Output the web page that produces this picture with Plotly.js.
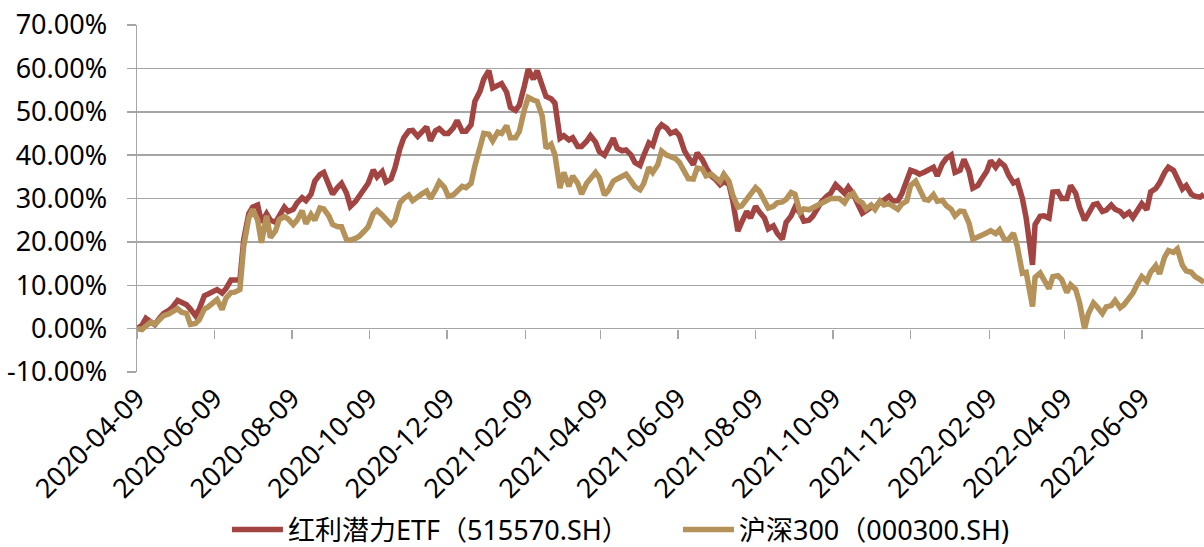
<!DOCTYPE html>
<html>
<head>
<meta charset="utf-8">
<script src="https://cdn.plot.ly/plotly-3.0.1.min.js"></script>
<style>
html,body{margin:0;padding:0;background:#fff;}
#chart{width:1204px;height:547px;}
</style>
</head>
<body>
<div id="chart"></div>
<script>
const dates = ["2020-04-09","2020-04-13","2020-04-16","2020-04-20","2020-04-23","2020-04-27","2020-04-30","2020-05-04","2020-05-07","2020-05-11","2020-05-14","2020-05-18","2020-05-21","2020-05-25","2020-05-28","2020-06-01","2020-06-04","2020-06-08","2020-06-11","2020-06-15","2020-06-18","2020-06-22","2020-06-25","2020-06-29","2020-07-02","2020-07-06","2020-07-09","2020-07-13","2020-07-16","2020-07-20","2020-07-23","2020-07-27","2020-07-30","2020-08-03","2020-08-06","2020-08-10","2020-08-13","2020-08-17","2020-08-20","2020-08-24","2020-08-27","2020-08-31","2020-09-03","2020-09-07","2020-09-10","2020-09-14","2020-09-17","2020-09-21","2020-09-24","2020-09-28","2020-10-01","2020-10-05","2020-10-08","2020-10-12","2020-10-15","2020-10-19","2020-10-22","2020-10-26","2020-10-29","2020-11-02","2020-11-05","2020-11-09","2020-11-12","2020-11-16","2020-11-19","2020-11-23","2020-11-26","2020-11-30","2020-12-03","2020-12-07","2020-12-10","2020-12-14","2020-12-17","2020-12-21","2020-12-24","2020-12-28","2020-12-31","2021-01-04","2021-01-07","2021-01-11","2021-01-14","2021-01-18","2021-01-21","2021-01-25","2021-01-28","2021-02-01","2021-02-04","2021-02-08","2021-02-11","2021-02-15","2021-02-18","2021-02-22","2021-02-25","2021-03-01","2021-03-04","2021-03-08","2021-03-11","2021-03-15","2021-03-18","2021-03-22","2021-03-25","2021-03-29","2021-04-01","2021-04-05","2021-04-08","2021-04-12","2021-04-15","2021-04-19","2021-04-22","2021-04-26","2021-04-29","2021-05-03","2021-05-06","2021-05-10","2021-05-13","2021-05-17","2021-05-20","2021-05-24","2021-05-27","2021-05-31","2021-06-03","2021-06-07","2021-06-10","2021-06-14","2021-06-17","2021-06-21","2021-06-24","2021-06-28","2021-07-01","2021-07-05","2021-07-08","2021-07-12","2021-07-15","2021-07-19","2021-07-22","2021-07-26","2021-07-29","2021-08-02","2021-08-05","2021-08-09","2021-08-12","2021-08-16","2021-08-19","2021-08-23","2021-08-26","2021-08-30","2021-09-02","2021-09-06","2021-09-09","2021-09-13","2021-09-16","2021-09-20","2021-09-23","2021-09-27","2021-09-30","2021-10-04","2021-10-07","2021-10-11","2021-10-14","2021-10-18","2021-10-21","2021-10-25","2021-10-28","2021-11-01","2021-11-04","2021-11-08","2021-11-11","2021-11-15","2021-11-18","2021-11-22","2021-11-25","2021-11-29","2021-12-02","2021-12-06","2021-12-09","2021-12-13","2021-12-16","2021-12-20","2021-12-23","2021-12-27","2021-12-30","2022-01-03","2022-01-06","2022-01-10","2022-01-13","2022-01-17","2022-01-20","2022-01-24","2022-01-27","2022-01-31","2022-02-03","2022-02-07","2022-02-10","2022-02-14","2022-02-17","2022-02-21","2022-02-24","2022-02-28","2022-03-03","2022-03-07","2022-03-10","2022-03-15","2022-03-17","2022-03-21","2022-03-24","2022-03-28","2022-03-31","2022-04-04","2022-04-07","2022-04-11","2022-04-14","2022-04-18","2022-04-21","2022-04-25","2022-04-28","2022-05-02","2022-05-05","2022-05-09","2022-05-12","2022-05-16","2022-05-19","2022-05-23","2022-05-26","2022-05-30","2022-06-02","2022-06-06","2022-06-09","2022-06-13","2022-06-16","2022-06-20","2022-06-23","2022-06-27","2022-06-30","2022-07-04","2022-07-07","2022-07-11","2022-07-14","2022-07-18","2022-07-21","2022-07-25","2022-07-28"];

// 红利潜力ETF cumulative return (%)
const etfReturn = [
0,0.8,2.4,1.6,0.9,2.5,3.5,4.2,5.0,6.5,
6.2,5.5,4.5,3.0,4.5,7.6,8.0,8.5,9.0,8.2,
9.2,11.2,11.3,11.2,20.5,26.5,28.0,28.5,24.5,26.5,
25.0,24.5,26.0,28.0,27.0,27.5,29.0,30.2,29.5,31.0,
34.0,35.5,36.0,33.0,31.0,32.6,33.5,31.2,28.2,29.3,
30.7,32.0,33.5,36.6,35.0,36.2,33.8,34.5,37.0,41.5,
44.0,45.6,45.7,44.3,45.3,46.5,43.3,45.6,46.1,45.0,
45.0,46.3,48.0,45.5,45.5,47.0,52.4,54.7,57.5,59.5,
55.5,56.0,56.5,54.5,51.0,50.3,51.5,56.0,59.8,57.5,
59.5,56.0,53.5,53.0,52.0,43.9,44.5,43.5,44.0,42.0,
42.0,43.2,44.5,43.0,40.8,40.0,42.0,43.9,41.6,41.0,
41.2,40.0,38.3,37.6,40.0,42.8,42.2,45.9,47.0,46.2,
45.0,45.5,44.5,41.0,39.5,37.8,40.5,39.0,37.2,35.2,
34.5,33.2,33.9,33.3,29.5,22.5,24.5,27.0,25.5,28.2,
26.9,25.5,23.0,23.7,22.0,20.6,24.5,26.0,28.0,26.7,
24.8,25.0,25.9,27.8,29.3,30.5,31.2,33.2,32.4,31.2,
32.6,31.0,29.0,26.6,27.2,28.0,27.8,29.4,29.6,30.5,
29.4,29.5,31.0,34.0,36.5,36.1,35.6,36.1,36.5,37.2,
35.2,38.0,39.2,40.0,36.0,36.5,39.0,36.3,32.4,33.0,
34.5,36.3,38.7,37.2,38.5,37.5,35.5,33.6,34.0,30.0,
25.5,14.7,24.0,25.9,26.0,25.5,31.5,31.6,30.0,30.0,
33.0,31.2,28.0,25.0,26.5,28.6,28.8,27.0,27.3,28.5,
27.5,27.0,26.0,26.8,25.6,27.5,28.8,27.4,31.5,32.3,
33.6,36.0,37.2,36.5,34.5,32.2,33.0,31.0,30.5,30.3,
31.0];

// 沪深300 cumulative return (%)
const hs300Return = [
0,-0.2,0.6,1.5,1.0,2.2,3.0,3.4,4.0,4.6,
3.8,3.5,1.0,1.2,2.0,4.5,5.0,6.0,6.7,4.4,
7.0,8.3,8.4,9.0,19.0,25.5,27.5,25.0,19.8,26.0,
21.0,22.5,25.2,25.8,25.3,24.0,25.0,27.2,24.2,26.3,
25.0,27.8,27.6,26.0,24.0,23.5,23.5,20.5,20.4,20.8,
21.3,22.5,23.5,26.5,27.3,26.2,25.2,24.0,25.0,29.0,
30.0,30.8,29.5,30.5,31.0,31.7,30.0,32.0,33.8,32.6,
30.5,30.8,31.5,32.8,32.5,33.5,37.5,42.0,45.0,44.8,
43.3,45.3,45.0,46.8,44.0,44.0,45.5,50.5,53.3,52.7,
52.4,49.0,41.6,42.5,40.1,32.4,36.0,32.8,35.2,33.5,
31.0,33.5,34.8,36.0,34.8,30.8,31.8,34.0,34.5,35.0,
35.6,34.0,32.7,32.0,33.5,37.2,36.0,37.8,40.9,40.0,
39.7,39.2,38.3,35.8,34.6,34.5,37.0,36.8,35.2,35.6,
34.8,33.9,35.6,34.0,30.8,28.0,28.3,29.8,30.8,32.5,
31.7,29.5,27.8,28.2,29.0,29.2,29.8,31.4,31.0,26.8,
27.6,27.4,27.9,28.6,28.8,29.7,30.0,30.0,30.0,29.0,
30.5,31.2,29.7,29.0,27.6,28.5,27.5,29.4,28.5,28.8,
28.2,27.5,28.7,29.4,33.0,34.0,32.2,29.8,29.6,30.9,
29.4,29.6,28.4,27.5,26.0,27.1,27.0,24.3,20.6,21.0,
21.5,22.1,22.6,21.9,22.8,20.5,20.5,22.0,19.0,12.8,
13.0,5.1,11.8,12.8,11.3,9.2,12.0,12.2,11.3,8.3,
10.1,9.0,6.0,0.0,3.5,5.9,5.0,3.5,5.0,5.3,
6.5,4.8,5.5,7.2,8.2,10.5,12.0,10.9,13.0,14.5,
12.6,16.5,18.0,17.6,18.4,14.6,13.3,13.0,12.0,11.3,
10.7];

const seriesNames = ["红利潜力ETF（515570.SH）", "沪深300（000300.SH)"];
const tickDates = ["2020-04-09","2020-06-09","2020-08-09","2020-10-09","2020-12-09","2021-02-09","2021-04-09","2021-06-09","2021-08-09","2021-10-09","2021-12-09","2022-02-09","2022-04-09","2022-06-09"];
const tickLabels = tickDates.slice();
const yTickVals = [-10,0,10,20,30,40,50,60,70];
const yTickLabels = ["-10.00%","0.00%","10.00%","20.00%","30.00%","40.00%","50.00%","60.00%","70.00%"];

const FONT = '"Noto Sans", "Noto Sans CJK SC", sans-serif';
const FS = 27;
const GRID = '#a6a6a6';

const traces = [
  {x: dates, y: etfReturn, name: seriesNames[0], type: 'scatter', mode: 'lines',
   line: {color: '#a24542', width: 5.5}, legend: 'legend'},
  {x: dates, y: hs300Return, name: seriesNames[1], type: 'scatter', mode: 'lines',
   line: {color: '#b4925a', width: 5.5}, legend: 'legend2'},
  {x: [dates[0]], y: [null], xaxis: 'x2', yaxis: 'y', type: 'scatter', mode: 'lines',
   showlegend: false, hoverinfo: 'skip'}
];

const legendBase = {orientation: 'h', xanchor: 'left', y: -0.455, yanchor: 'middle',
  font: {family: FONT, size: FS, color: '#000'}, itemwidth: 51, bgcolor: 'rgba(0,0,0,0)', borderwidth: 0};

const layout = {
  width: 1204, height: 547,
  margin: {l: 137, r: 0, t: 25, b: 175, pad: 0, autoexpand: false},
  paper_bgcolor: '#ffffff', plot_bgcolor: '#ffffff',
  font: {family: FONT, size: FS, color: '#000000'},
  showlegend: true,
  legend: Object.assign({}, legendBase, {x: 0.0843}),
  legend2: Object.assign({}, legendBase, {x: 0.507}),
  xaxis: {type: 'date', range: ['2020-04-09', '2022-07-28'], tickmode: 'array',
          tickvals: tickDates, ticktext: tickLabels, tickangle: -45, ticks: '',
          showgrid: false, showline: false, zeroline: false, automargin: false,
          ticklabelstandoff: 4,
          tickfont: {family: FONT, size: FS, color: '#000'}},
  xaxis2: {type: 'date', overlaying: 'x', matches: 'x', anchor: 'free', position: 0.125, side: 'bottom',
           tickmode: 'array', tickvals: tickDates, ticks: 'outside', ticklen: 9, tickwidth: 1.5,
           tickcolor: GRID, showticklabels: false, showgrid: false, showline: false, zeroline: false},
  yaxis: {range: [-10, 70], tickmode: 'array', tickvals: yTickVals, ticktext: yTickLabels,
          showgrid: true, gridcolor: GRID, gridwidth: 1.5, showline: true, linecolor: GRID, linewidth: 1.5,
          ticks: 'outside', ticklen: 9, tickwidth: 1.5, tickcolor: GRID, zeroline: false, automargin: false,
          ticklabelstandoff: 14, tickfont: {family: FONT, size: FS, color: '#000'}}
};

Plotly.newPlot('chart', traces, layout, {staticPlot: true, displayModeBar: false});
</script>
</body>
</html>
